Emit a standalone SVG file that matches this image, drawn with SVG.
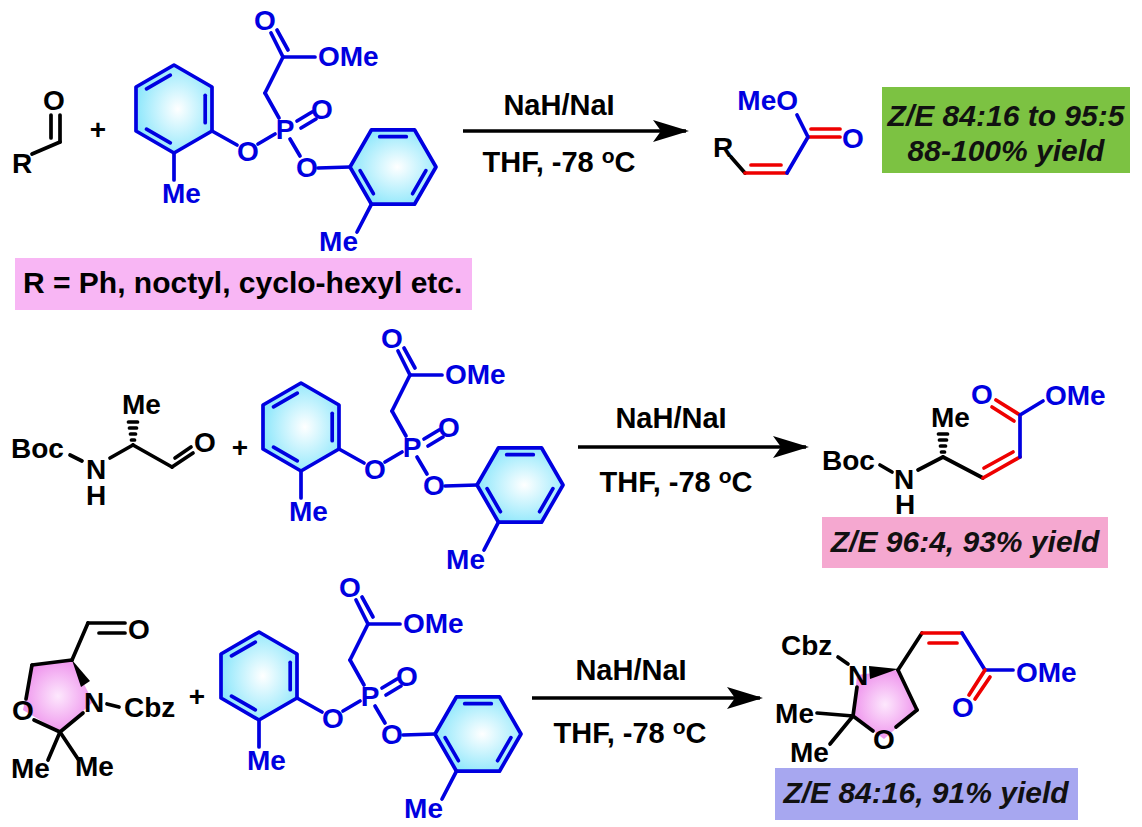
<svg xmlns="http://www.w3.org/2000/svg" width="1142" height="827" viewBox="0 0 1142 827">
<style>
.k{stroke:#000;stroke-width:3.7;fill:none;stroke-linecap:round;stroke-linejoin:round}
.u{stroke:#0000e0;stroke-width:3.7;fill:none;stroke-linecap:round;stroke-linejoin:round}
.r{stroke:#ee0000;stroke-width:3.7;fill:none;stroke-linecap:round}
.ring{stroke:#0000e0;stroke-width:3.7;fill:url(#cyan);stroke-linejoin:round}
.t{font-family:"Liberation Sans",Arial,sans-serif;font-weight:bold;font-size:28px}
.tk{fill:#000}
.tb{fill:#0000e0}
.c{text-anchor:middle}
.e{text-anchor:end}
.cond{font-family:"Liberation Sans",Arial,sans-serif;font-weight:bold;font-size:29px;fill:#000;text-anchor:middle}
.bx{font-family:"Liberation Sans",Arial,sans-serif;font-weight:bold;font-style:italic;font-size:30px;fill:#111;text-anchor:middle}
.arr{stroke:#000;stroke-width:3.7;fill:none}
</style>
<defs>
<radialGradient id="cyan" cx="0.55" cy="0.5" r="0.62">
<stop offset="0" stop-color="#ffffff"/>
<stop offset="1" stop-color="#7fe4fb"/>
</radialGradient>
<radialGradient id="pink" cx="0.5" cy="0.5" r="0.6">
<stop offset="0" stop-color="#fde8fd"/>
<stop offset="1" stop-color="#ec86ea"/>
</radialGradient>
<marker id="ah" viewBox="0 0 36 22" refX="33" refY="11" markerWidth="36" markerHeight="22" markerUnits="userSpaceOnUse" orient="auto">
<path d="M0,0 L36,11 L0,22 L8,11 Z" fill="#000"/>
</marker>
</defs>
<rect width="1142" height="827" fill="#fff"/>

<!-- Row 1 -->
<g id="aldehyde-1">
<text class="t tk" x="12" y="173" font-size="25">R</text>
<line class="k" x1="32" y1="154" x2="60" y2="142"/>
<line class="k" x1="60" y1="142" x2="60" y2="115"/>
<line class="k" x1="51" y1="138" x2="51" y2="115"/>
<text class="t tk c" x="54" y="110">O</text>
</g>
<g id="plus-1"><text class="t tk c" x="98" y="139" font-size="30">+</text></g>

<g id="phosphonate-1">
<polygon class="ring" points="174,65 212,87 212,131 174,153 136,131 136,87"/>
<line class="u" x1="146.5" y1="88.8" x2="170.3" y2="75.2"/>
<line class="u" x1="205.2" y1="95.3" x2="205.2" y2="122.7"/>
<line class="u" x1="170.3" y1="142.8" x2="146.5" y2="129.2"/>
<line class="u" x1="174" y1="153" x2="174" y2="180"/>
<text class="t tb" x="162" y="203">Me</text>
<line class="u" x1="212" y1="131" x2="237" y2="145"/>
<text class="t tb c" x="248" y="161">O</text>
<line class="u" x1="258" y1="144" x2="275" y2="134"/>
<text class="t tb c" x="285" y="139">P</text>
<line class="u" x1="297" y1="121" x2="312" y2="112"/>
<line class="u" x1="301" y1="128" x2="316" y2="119"/>
<text class="t tb c" x="322" y="119">O</text>
<line class="u" x1="279" y1="118" x2="265" y2="93"/>
<line class="u" x1="265" y1="93" x2="283" y2="57"/>
<line class="u" x1="283" y1="57" x2="271" y2="33"/>
<line class="u" x1="288" y1="50" x2="277" y2="30"/>
<text class="t tb c" x="265" y="30">O</text>
<line class="u" x1="283" y1="57" x2="315" y2="57"/>
<text class="t tb" x="318" y="66">OMe</text>
<line class="u" x1="290" y1="139" x2="300" y2="156"/>
<text class="t tb c" x="307" y="177">O</text>
<line class="u" x1="318" y1="168" x2="350" y2="167"/>
<polygon class="ring" points="350,167 371.5,129.8 414.5,129.8 436,167 414.5,204.2 371.5,204.2"/>
<line class="u" x1="379.7" y1="136.7" x2="406.3" y2="136.7"/>
<line class="u" x1="425.9" y1="170.6" x2="412.6" y2="193.7"/>
<line class="u" x1="373.4" y1="193.7" x2="360.1" y2="170.6"/>
<line class="u" x1="371.5" y1="204.2" x2="357" y2="232"/>
<text class="t tb e" x="358" y="251">Me</text>
</g>

<g id="note-1">
<rect x="15" y="258" width="457" height="52" fill="#f8b6f4"/>
<text x="23" y="293" font-family="Liberation Sans, Arial, sans-serif" font-weight="bold" font-size="30" fill="#000">R = Ph, noctyl, cyclo-hexyl etc.</text>
</g>

<g id="conditions-1">
<text class="cond" x="559" y="115">NaH/NaI</text>
<text class="cond" x="559" y="172">THF, -78 <tspan font-size="21" dy="-9">o</tspan><tspan dy="9">C</tspan></text>
</g>

<g id="product-1">
<text class="t tk" x="713" y="157" font-size="24">R</text>
<line class="k" x1="731" y1="157" x2="745" y2="173"/>
<line class="r" x1="745" y1="173" x2="787" y2="173"/>
<line class="r" x1="751" y1="165" x2="781" y2="165"/>
<line class="u" x1="787" y1="173" x2="808" y2="137"/>
<line class="r" x1="808" y1="137" x2="840" y2="137"/>
<line class="r" x1="811" y1="129" x2="840" y2="129"/>
<text class="t tb c" x="853" y="148">O</text>
<line class="u" x1="808" y1="137" x2="797" y2="115"/>
<text class="t tb e" x="798" y="110">MeO</text>
</g>

<g id="result-1">
<rect x="882" y="87" width="248" height="86" fill="#7cc242"/>
<text class="bx" x="1006" y="126">Z/E 84:16 to 95:5</text>
<text class="bx" x="1006" y="161">88-100% yield</text>
</g>

<!-- Row 2 -->
<g id="aldehyde-2">
<text class="t tk" x="11" y="458">Boc</text>
<line class="k" x1="70" y1="455" x2="82" y2="461"/>
<text class="t tk c" x="96" y="479">N<tspan x="96" dy="26">H</tspan></text>
<line class="k" x1="110" y1="458" x2="133" y2="445"/>
<g class="k" stroke-width="2.6">
<line x1="131.5" y1="440" x2="134.5" y2="440"/>
<line x1="130.5" y1="434" x2="135.5" y2="434"/>
<line x1="129.5" y1="428" x2="136.5" y2="428"/>
<line x1="128.5" y1="422" x2="137.5" y2="422"/>
</g>
<text class="t tk" x="122" y="414">Me</text>
<line class="k" x1="133" y1="445" x2="172" y2="467"/>
<line class="k" x1="172" y1="467" x2="193" y2="453"/>
<line class="k" x1="175" y1="458" x2="191" y2="447"/>
<text class="t tk c" x="205" y="452">O</text>
</g>
<g id="plus-2"><text class="t tk c" x="240" y="457" font-size="30">+</text></g>

<g id="phosphonate-2" transform="translate(127,318)">
<polygon class="ring" points="174,65 212,87 212,131 174,153 136,131 136,87"/>
<line class="u" x1="146.5" y1="88.8" x2="170.3" y2="75.2"/>
<line class="u" x1="205.2" y1="95.3" x2="205.2" y2="122.7"/>
<line class="u" x1="170.3" y1="142.8" x2="146.5" y2="129.2"/>
<line class="u" x1="174" y1="153" x2="174" y2="180"/>
<text class="t tb" x="162" y="203">Me</text>
<line class="u" x1="212" y1="131" x2="237" y2="145"/>
<text class="t tb c" x="248" y="161">O</text>
<line class="u" x1="258" y1="144" x2="275" y2="134"/>
<text class="t tb c" x="285" y="139">P</text>
<line class="u" x1="297" y1="121" x2="312" y2="112"/>
<line class="u" x1="301" y1="128" x2="316" y2="119"/>
<text class="t tb c" x="322" y="119">O</text>
<line class="u" x1="279" y1="118" x2="265" y2="93"/>
<line class="u" x1="265" y1="93" x2="283" y2="57"/>
<line class="u" x1="283" y1="57" x2="271" y2="33"/>
<line class="u" x1="288" y1="50" x2="277" y2="30"/>
<text class="t tb c" x="265" y="30">O</text>
<line class="u" x1="283" y1="57" x2="315" y2="57"/>
<text class="t tb" x="318" y="66">OMe</text>
<line class="u" x1="290" y1="139" x2="300" y2="156"/>
<text class="t tb c" x="307" y="177">O</text>
<line class="u" x1="318" y1="168" x2="350" y2="167"/>
<polygon class="ring" points="350,167 371.5,129.8 414.5,129.8 436,167 414.5,204.2 371.5,204.2"/>
<line class="u" x1="379.7" y1="136.7" x2="406.3" y2="136.7"/>
<line class="u" x1="425.9" y1="170.6" x2="412.6" y2="193.7"/>
<line class="u" x1="373.4" y1="193.7" x2="360.1" y2="170.6"/>
<line class="u" x1="371.5" y1="204.2" x2="357" y2="232"/>
<text class="t tb e" x="358" y="251">Me</text>
</g>

<g id="conditions-2">
<text class="cond" x="671" y="428">NaH/NaI</text>
<text class="cond" x="676" y="492">THF, -78 <tspan font-size="21" dy="-9">o</tspan><tspan dy="9">C</tspan></text>
</g>

<g id="product-2">
<text class="t tk" x="822" y="470">Boc</text>
<line class="k" x1="880" y1="465" x2="892" y2="472"/>
<text class="t tk c" x="904" y="489">N<tspan x="905" dy="25">H</tspan></text>
<line class="k" x1="918" y1="470" x2="943" y2="457"/>
<g class="k" stroke-width="2.6">
<line x1="941.5" y1="452" x2="944.5" y2="452"/>
<line x1="940.5" y1="446" x2="945.5" y2="446"/>
<line x1="939.5" y1="440" x2="946.5" y2="440"/>
<line x1="938.5" y1="434" x2="947.5" y2="434"/>
</g>
<text class="t tk" x="931" y="427">Me</text>
<line class="k" x1="943" y1="457" x2="983" y2="478"/>
<line class="r" x1="983" y1="478" x2="1020" y2="457"/>
<line class="r" x1="984" y1="468" x2="1013" y2="452"/>
<line class="u" x1="1020" y1="457" x2="1020" y2="415"/>
<line class="r" x1="1020" y1="415" x2="996" y2="400"/>
<line class="r" x1="1014" y1="421" x2="992" y2="407"/>
<text class="t tb c" x="982" y="404">O</text>
<line class="u" x1="1020" y1="415" x2="1043" y2="401"/>
<text class="t tb" x="1045" y="405">OMe</text>
</g>

<g id="result-2">
<rect x="822" y="517" width="286" height="51" fill="#f5a8d0"/>
<text class="bx" x="965" y="552">Z/E 96:4, 93% yield</text>
</g>

<!-- Row 3 -->
<g id="aldehyde-3">
<polygon points="72,660 32,665 23,710 60,732 93,702" fill="url(#pink)"/>
<line class="k" x1="72" y1="660" x2="32" y2="665"/>
<line class="k" x1="32" y1="665" x2="26" y2="699"/>
<line class="k" x1="34" y1="720" x2="60" y2="732"/>
<line class="k" x1="60" y1="732" x2="83" y2="713"/>
<polygon points="72,660 81,687 90,681" fill="#000"/>
<text class="t tk c" x="23" y="720">O</text>
<text class="t tk c" x="94" y="712">N</text>
<line class="k" x1="72" y1="660" x2="88" y2="623"/>
<line class="k" x1="88" y1="623" x2="125" y2="623"/>
<line class="k" x1="99" y1="633" x2="125" y2="633"/>
<text class="t tk c" x="139" y="639">O</text>
<line class="k" x1="107" y1="704" x2="119" y2="707"/>
<text class="t tk" x="124" y="717">Cbz</text>
<line class="k" x1="60" y1="732" x2="48" y2="760"/>
<text class="t tk" x="11" y="778">Me</text>
<line class="k" x1="60" y1="732" x2="78" y2="759"/>
<text class="t tk" x="75" y="776">Me</text>
</g>
<g id="plus-3"><text class="t tk c" x="197" y="706" font-size="28">+</text></g>

<g id="phosphonate-3" transform="translate(85,567)">
<polygon class="ring" points="174,65 212,87 212,131 174,153 136,131 136,87"/>
<line class="u" x1="146.5" y1="88.8" x2="170.3" y2="75.2"/>
<line class="u" x1="205.2" y1="95.3" x2="205.2" y2="122.7"/>
<line class="u" x1="170.3" y1="142.8" x2="146.5" y2="129.2"/>
<line class="u" x1="174" y1="153" x2="174" y2="180"/>
<text class="t tb" x="162" y="203">Me</text>
<line class="u" x1="212" y1="131" x2="237" y2="145"/>
<text class="t tb c" x="248" y="161">O</text>
<line class="u" x1="258" y1="144" x2="275" y2="134"/>
<text class="t tb c" x="285" y="139">P</text>
<line class="u" x1="297" y1="121" x2="312" y2="112"/>
<line class="u" x1="301" y1="128" x2="316" y2="119"/>
<text class="t tb c" x="322" y="119">O</text>
<line class="u" x1="279" y1="118" x2="265" y2="93"/>
<line class="u" x1="265" y1="93" x2="283" y2="57"/>
<line class="u" x1="283" y1="57" x2="271" y2="33"/>
<line class="u" x1="288" y1="50" x2="277" y2="30"/>
<text class="t tb c" x="265" y="30">O</text>
<line class="u" x1="283" y1="57" x2="315" y2="57"/>
<text class="t tb" x="318" y="66">OMe</text>
<line class="u" x1="290" y1="139" x2="300" y2="156"/>
<text class="t tb c" x="307" y="177">O</text>
<line class="u" x1="318" y1="168" x2="350" y2="167"/>
<polygon class="ring" points="350,167 371.5,129.8 414.5,129.8 436,167 414.5,204.2 371.5,204.2"/>
<line class="u" x1="379.7" y1="136.7" x2="406.3" y2="136.7"/>
<line class="u" x1="425.9" y1="170.6" x2="412.6" y2="193.7"/>
<line class="u" x1="373.4" y1="193.7" x2="360.1" y2="170.6"/>
<line class="u" x1="371.5" y1="204.2" x2="357" y2="232"/>
<text class="t tb e" x="358" y="251">Me</text>
</g>

<g id="conditions-3">
<text class="cond" x="631" y="680">NaH/NaI</text>
<text class="cond" x="630" y="743">THF, -78 <tspan font-size="21" dy="-9">o</tspan><tspan dy="9">C</tspan></text>
</g>

<g id="product-3">
<polygon points="857,675 898,670 917,710 884,739 853,716" fill="url(#pink)"/>
<text class="t tk" x="781" y="655">Cbz</text>
<line class="k" x1="838" y1="657" x2="848" y2="664"/>
<text class="t tk c" x="858" y="685">N</text>
<polygon points="898,669 869,666 870,679" fill="#000"/>
<line class="k" x1="898" y1="670" x2="922" y2="633"/>
<line class="r" x1="922" y1="633" x2="962" y2="633"/>
<line class="r" x1="929" y1="643" x2="957" y2="643"/>
<line class="u" x1="962" y1="633" x2="985" y2="670"/>
<line class="u" x1="985" y1="670" x2="1013" y2="670"/>
<text class="t tb" x="1016" y="682">OMe</text>
<line class="r" x1="985" y1="670" x2="969" y2="695"/>
<line class="r" x1="990" y1="677" x2="975" y2="699"/>
<text class="t tb c" x="963" y="717">O</text>
<line class="k" x1="898" y1="670" x2="917" y2="710"/>
<line class="k" x1="917" y1="710" x2="896" y2="727"/>
<line class="k" x1="873" y1="731" x2="853" y2="716"/>
<line class="k" x1="853" y1="716" x2="857" y2="687"/>
<text class="t tk c" x="884" y="749">O</text>
<line class="k" x1="853" y1="716" x2="817" y2="713"/>
<text class="t tk e" x="814" y="723">Me</text>
<line class="k" x1="853" y1="716" x2="830" y2="744"/>
<text class="t tk" x="790" y="762">Me</text>
</g>

<g id="result-3">
<rect x="775" y="768" width="303" height="52" fill="#a7a7f0"/>
<text class="bx" x="926" y="803">Z/E 84:16, 91% yield</text>
</g>

<g id="connectors">
<line class="arr" x1="463" y1="131" x2="686" y2="131" marker-end="url(#ah)"/>
<line class="arr" x1="578" y1="447" x2="806" y2="447" marker-end="url(#ah)"/>
<line class="arr" x1="532" y1="698" x2="760" y2="698" marker-end="url(#ah)"/>
</g>
</svg>
